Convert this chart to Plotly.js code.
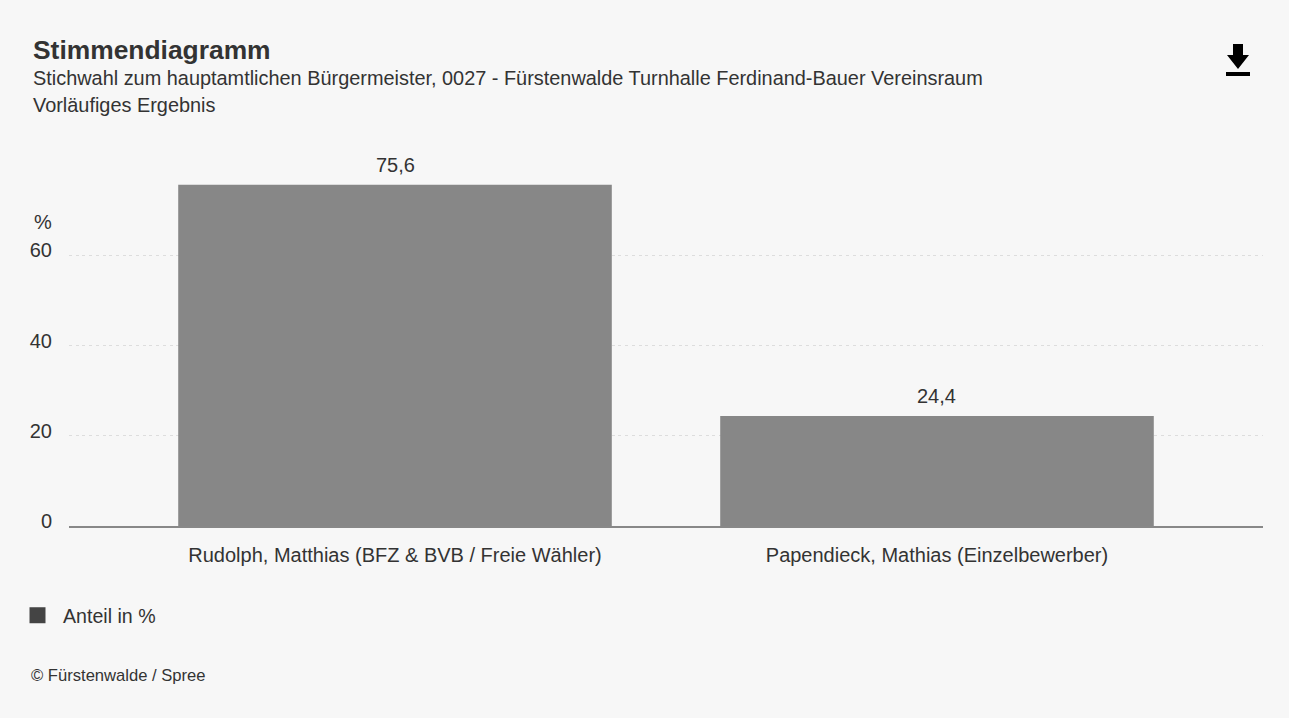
<!DOCTYPE html>
<html><head><meta charset="utf-8">
<script src="https://cdn.plot.ly/plotly-3.0.1.min.js"></script>
<style>html,body{margin:0;padding:0;background:#fff;overflow:hidden}#c{position:absolute;left:0;top:0;width:1289px;height:718px}</style>
</head><body><div id="c"></div>
<script>
const categories=["Rudolph, Matthias (BFZ & BVB / Freie Wähler)","Papendieck, Mathias (Einzelbewerber)"];
const values=[75.6,24.4];
const valueLabels=["75,6","24,4"];
const seriesName="Anteil in %";
const yTicks=[0,20,40,60];
const titleText="Stimmendiagramm";
const subtitleLines=["Stichwahl zum hauptamtlichen Bürgermeister, 0027 - Fürstenwalde Turnhalle Ferdinand-Bauer Vereinsraum","Vorläufiges Ergebnis"];
const W=1289,H=718,F="Liberation Sans, Arial, sans-serif",TC="#333333";
const m={l:69,r:26,t:165,b:192};
const fx=x=>(x-m.l)/(W-m.l-m.r), fy=y=>(H-m.b-y)/(H-m.t-m.b);
const iconPts=[[1233,44],[1243,44],[1243,55],[1249,55],[1238,69],[1227,55],[1233,55]];
const iconPath="M"+iconPts.map(p=>fx(p[0])+","+fy(p[1])).join("L")+"Z";
const note=(t,x,y,size,anchor)=>({text:t,xref:"paper",yref:"paper",x:fx(x),y:fy(y),xanchor:anchor||"left",yanchor:"middle",showarrow:false,font:{family:F,size:size,color:TC}});
const barLabels=categories.map((c,i)=>({text:valueLabels[i],xref:"x",yref:"y",x:c,y:values[i],yanchor:"middle",xanchor:"center",yshift:20,showarrow:false,font:{family:F,size:20,color:TC}}));
Plotly.newPlot("c",[
 {type:"bar",x:categories,y:values,marker:{color:"#878787"},width:0.8,showlegend:false,hoverinfo:"x+y"},
 {type:"scatter",mode:"markers",name:seriesName,x:[categories[0]],y:[null],marker:{symbol:"square",size:16,color:"#444444"}}
],{
 width:W,height:H,margin:m,paper_bgcolor:"#f7f7f7",plot_bgcolor:"#f7f7f7",
 title:{text:"<b>"+titleText+"</b>",font:{family:F,size:26.4,color:TC},xref:"container",x:33/W,xanchor:"left",yref:"container",y:1-50/H,yanchor:"middle",pad:{l:0,r:0,t:0,b:0}},
 xaxis:{type:"category",range:[-0.6015,1.6015],showgrid:false,showline:true,linecolor:"#888888",linewidth:2,ticks:"outside",ticklen:10,tickcolor:"rgba(0,0,0,0)",tickfont:{family:F,size:20,color:TC}},
 yaxis:{range:[0,80],tickvals:yTicks,ticktext:yTicks.map(String),showline:false,zeroline:false,gridcolor:"#dddddd",griddash:"3px,3.7px",gridwidth:1,tickfont:{family:F,size:20,color:TC},ticks:"outside",ticklen:12,tickcolor:"rgba(0,0,0,0)",tickwidth:1,ticklabelshift:-5},
 showlegend:true,
 legend:{x:fx(12),y:fy(596),xanchor:"left",yanchor:"top",bgcolor:"rgba(0,0,0,0)",font:{family:F,size:19.6,color:TC},itemwidth:41},
 annotations:[
  note(subtitleLines[0],30.5,78,19.9),
  note(subtitleLines[1],30.5,105,19.9),
  note("%",54,222,20,"right"),
  note("© Fürstenwalde / Spree",28.5,675,16.6)
 ].concat(barLabels),
 shapes:[
  {type:"path",xref:"paper",yref:"paper",path:iconPath,fillcolor:"#000",line:{width:0}},
  {type:"rect",xref:"paper",yref:"paper",x0:fx(1226),x1:fx(1250),y0:fy(72),y1:fy(76),fillcolor:"#000",line:{width:0}}
 ]
},{displayModeBar:false});
</script></body></html>
